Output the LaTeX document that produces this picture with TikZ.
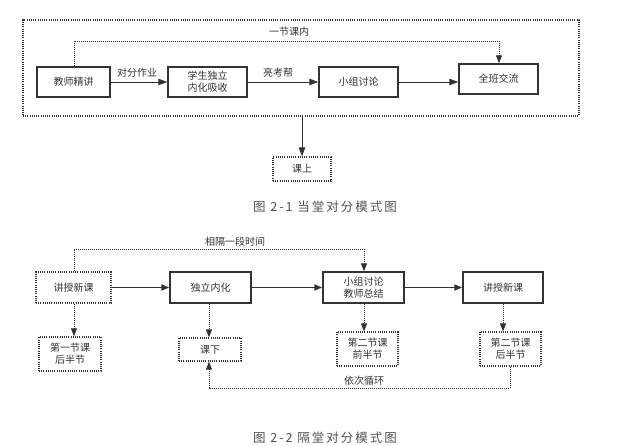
\documentclass[tikz,border=0pt]{standalone}
\usepackage{fontspec}
\setmainfont{Noto Sans CJK SC}
\newfontfamily\capfont[LetterSpace=16]{Noto Sans CJK SC}
\usetikzlibrary{arrows.meta}
\definecolor{ink}{HTML}{333333}
\tikzset{
  solidbox/.style={draw=ink, line width=1.4pt, fill=white, text=ink, align=center, inner sep=0pt, font=\fontsize{10}{12}\selectfont},
  dotbox/.style={draw=ink, line width=1.3pt, dash pattern=on 1pt off 1.2pt, fill=white, text=ink, align=center, inner sep=0pt, font=\fontsize{10}{12}\selectfont},
  thinarrow/.style={draw=ink, line width=0.9pt, -{Triangle[length=9pt,width=6.5pt]}},
  thickarrow/.style={draw=ink, line width=1.8pt, -{Triangle[length=8pt,width=6pt]}},
  dotline/.style={draw=ink, line width=0.9pt, dash pattern=on 0.9pt off 1.1pt},
  dotarrow/.style={dotline, -{Triangle[length=8pt,width=6pt]}},
  lbl/.style={text=ink, inner sep=0pt, font=\fontsize{10}{12}\selectfont},
  captext/.style={text=ink!85, inner sep=0pt, font=\capfont\fontsize{12.5}{14}\selectfont},
}
\begin{document}
\begin{tikzpicture}[x=1pt,y=-1pt]
\useasboundingbox (0,0) rectangle (639,446);
% ---------- Figure 2-1 ----------
\node[draw=ink, line width=1.2pt, dash pattern=on 1pt off 1.2pt, minimum width=556pt, minimum height=96pt, inner sep=0pt] (outer) at (301,68) {};
\node[solidbox, minimum width=73pt, minimum height=30pt] (t1) at (73.5,82) {教师精讲};
\node[solidbox, minimum width=79pt, minimum height=30pt] (t2) at (207.5,82) {学生独立\\内化吸收};
\node[solidbox, minimum width=79pt, minimum height=30pt] (t3) at (358.5,82) {小组讨论};
\node[solidbox, minimum width=79pt, minimum height=30pt] (t4) at (498.5,79) {全班交流};
\node[dotbox, minimum width=58pt, minimum height=24pt] (t5) at (302,169) {课上};
\draw[thinarrow] (t1.east |- 0,82) -- (t2.west |- 0,82);
\draw[thinarrow] (t2.east |- 0,82) -- (t3.west |- 0,82);
\draw[thinarrow] (t3.east |- 0,82) -- (t4.west |- 0,82);
\node[lbl] (l1) at (137,73) {对分作业};
\node[lbl] (l2) at (278,73) {亮考帮};
\coordinate (k1) at (74,41);
\coordinate (k2) at (499,41);
\draw[dotarrow] (t1.north -| k1) -- (k1) -- (k2) -- (t4.north -| k2);
\node[lbl] (l3) at (289,32) {一节课内};
\draw[thinarrow] (outer.south -| t5.north) -- (t5.north);
\node[captext] (cap1) at (325,207) {图 2-1 当堂对分模式图};
% ---------- Figure 2-2 ----------
\node[dotbox, minimum width=75pt, minimum height=31pt] (b1) at (73.5,287.5) {讲授新课};
\node[solidbox, minimum width=81pt, minimum height=31pt] (b2) at (210.5,287.5) {独立内化};
\node[solidbox, minimum width=81pt, minimum height=31pt] (b3) at (363.5,287.5) {小组讨论\\教师总结};
\node[solidbox, minimum width=80pt, minimum height=31pt] (b4) at (503,287.5) {讲授新课};
\draw[thickarrow] (b1) -- (b2);
\draw[thickarrow] (b2) -- (b3);
\draw[thickarrow] (b3) -- (b4);
\node[dotbox, minimum width=62pt, minimum height=34pt] (c1) at (70,354) {第一节课\\后半节};
\node[dotbox, minimum width=62pt, minimum height=23pt] (c2) at (210,349.5) {课下};
\node[dotbox, minimum width=61pt, minimum height=34pt] (c3) at (367.5,349) {第二节课\\前半节};
\node[dotbox, minimum width=61pt, minimum height=34pt] (c4) at (510.5,349) {第二节课\\后半节};
\coordinate (d1) at (74,0);
\coordinate (d2) at (209,0);
\coordinate (d3) at (364,0);
\coordinate (d4) at (503,0);
\draw[dotarrow] (b1.south -| d1) -- (c1.north -| d1);
\draw[dotarrow] (b2.south -| d2) -- (c2.north -| d2);
\draw[dotarrow] (b3.south -| d3) -- (c3.north -| d3);
\draw[dotarrow] (b4.south -| d4) -- (c4.north -| d4);
\coordinate (m1) at (74,249);
\coordinate (m2) at (364,249);
\draw[dotarrow] (b1.north -| m1) -- (m1) -- (m2) -- (b3.north -| m2);
\node[lbl] (l4) at (235,242) {相隔一段时间};
\coordinate (r1) at (510,388);
\coordinate (r2) at (209,388);
\draw[dotarrow] (c4.south -| r1) -- (r1) -- (r2) -- (c2.south -| r2);
\node[lbl] (l5) at (364,381) {依次循环};
\node[captext] (cap2) at (325,438) {图 2-2 隔堂对分模式图};
\end{tikzpicture}
\end{document}
